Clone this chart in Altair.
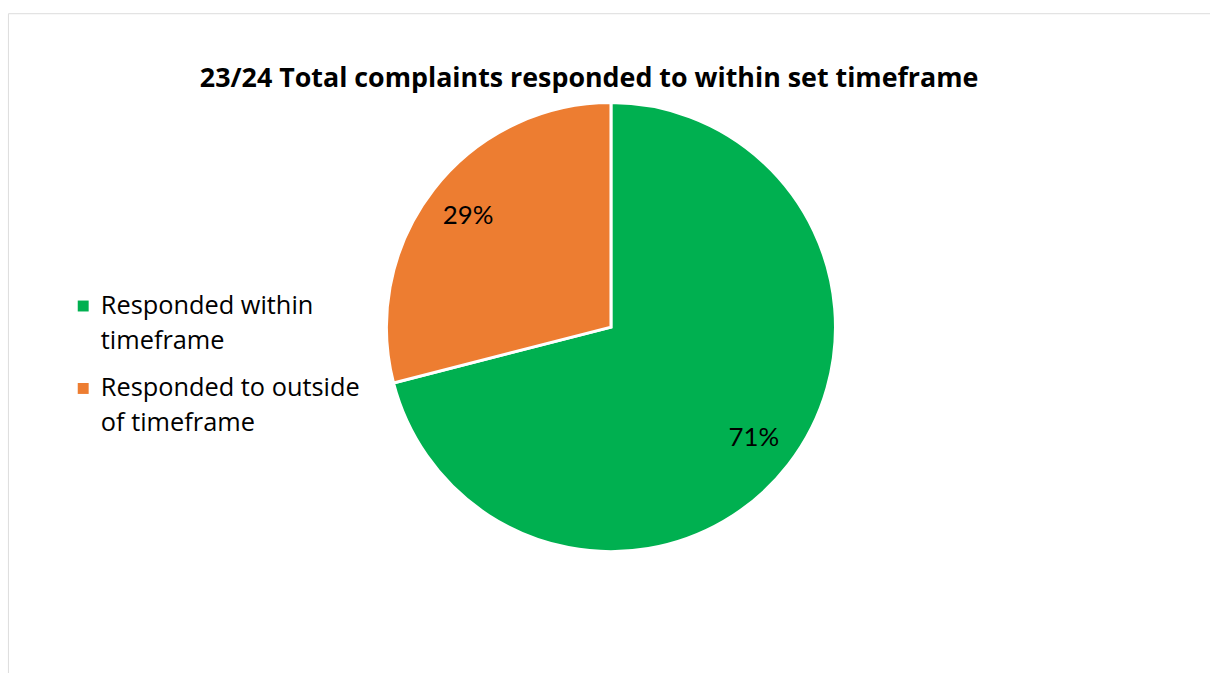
import altair as alt
import pandas as pd

# ---- data ----
categories = ["Responded within timeframe", "Responded to outside of timeframe"]
shares = [71, 29]
pct_labels = ["71%", "29%"]
legend_lines = [["Responded within", "timeframe"], ["Responded to outside", "of timeframe"]]
colors = ["#00B050", "#ED7D31"]
title_text = "23/24 Total complaints responded to within set timeframe"

df = pd.DataFrame({
    "category": categories,
    "share": shares,
    "pct": pct_labels,
    "order": list(range(len(categories))),
})

# legend labels split on two lines
label_expr = " : ".join(
    [f"datum.label == '{c}' ? {lines!r}" for c, lines in zip(categories, legend_lines)]
) + " : datum.label"

color_scale = alt.Scale(domain=categories, range=colors)

CX, CY = 607, 316  # pie centre inside the view

base = alt.Chart(df).encode(
    theta=alt.Theta("share:Q", stack=True),
    order=alt.Order("order:Q", sort="ascending"),
)

pie = base.mark_arc(outerRadius=226, stroke="white", strokeWidth=3).encode(
    x=alt.value(CX),
    y=alt.value(CY),
    color=alt.Color(
        "category:N",
        scale=color_scale,
        sort=categories,
        legend=alt.Legend(
            title=None,
            orient="none",
            legendX=63,
            legendY=282,
            symbolType="square",
            symbolSize=121,
            symbolStrokeWidth=0,
            labelFont="Open Sans",
            labelFontSize=25.5,
            labelColor="black",
            labelBaseline="middle",
            labelOffset=5,
            labelLimit=0,
            rowPadding=21,
            labelExpr=label_expr,
        ),
    ),
)

labels = base.mark_text(radius=182, font="Lato", fontSize=26, color="black").encode(
    x=alt.value(CX),
    y=alt.value(CY),
    text="pct:N",
)

chart = (
    alt.layer(pie, labels)
    .properties(
        width=1210,
        height=680,
        padding={"left": 8, "top": 11, "right": 0, "bottom": 0},
        autosize=alt.AutoSizeParams(type="none"),
        title=alt.TitleParams(
            text=title_text,
            font="Open Sans",
            fontSize=27,
            fontWeight="bold",
            color="black",
            anchor="middle",
            frame="group",
            dx=-20,
            dy=84,
        ),
    )
    .configure_view(stroke="#D9D9D9", strokeWidth=2)
    .configure(style={"guide-label": {"lineHeight": 35}})
)

chart.save("out.html", embed_options={"renderer": "svg", "actions": False})
